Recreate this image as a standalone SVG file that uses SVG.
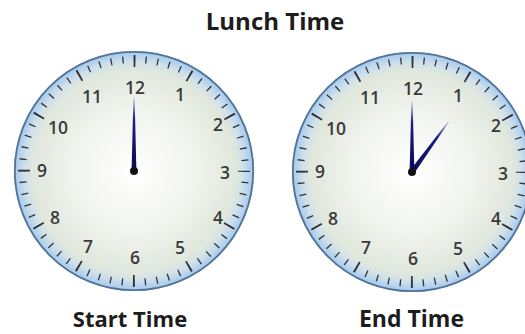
<svg xmlns="http://www.w3.org/2000/svg" xmlns:xlink="http://www.w3.org/1999/xlink" width="525" height="334" viewBox="0 0 525 334">
  <style>
    .title { font-family: "Open Sans", "Liberation Sans", sans-serif; font-weight: 700; fill: #1c1c1c; text-anchor: middle; }
    .num { font-family: "Open Sans", "Liberation Sans", sans-serif; font-weight: 600; font-size: 17.5px; fill: #3a3a3a; text-anchor: middle; }
  </style>
  <defs>
    <radialGradient id="dialGrad" gradientUnits="userSpaceOnUse" cx="0" cy="0" r="120">
      <stop offset="0" stop-color="#ffffff"/>
      <stop offset="0.5" stop-color="#f2f4ef"/>
      <stop offset="0.85" stop-color="#e0e7dc"/>
      <stop offset="0.91" stop-color="#d0e1eb"/>
      <stop offset="0.96" stop-color="#b5d3ee"/>
      <stop offset="1" stop-color="#a3c6e7"/>
    </radialGradient>
    <linearGradient id="handGrad" x1="0" y1="1" x2="0" y2="0">
      <stop offset="0" stop-color="#0b0954"/>
      <stop offset="0.7" stop-color="#1d1c86"/>
      <stop offset="1" stop-color="#cfd2e4"/>
    </linearGradient>
    <g id="dial">
      <circle r="120" fill="url(#dialGrad)"/>
      <circle r="119.2" fill="none" stroke="#52739a" stroke-width="1.8"/>
      <circle r="111.5" fill="none" stroke="#333333" stroke-width="7" stroke-dasharray="1.3 10.376" stroke-dashoffset="0.65"/>
      <circle r="110" fill="none" stroke="#333333" stroke-width="12" stroke-dasharray="1.8 55.796" stroke-dashoffset="0.9"/>
    </g>
  </defs>
  <rect width="525" height="334" fill="#ffffff"/>

  <g id="title">
    <text class="title" x="275" y="30" font-size="24">Lunch Time</text>
  </g>

  <g id="clock-start">
    <use xlink:href="#dial" href="#dial" transform="translate(134,171)"/>
    <g transform="translate(134,171)">
      <text class="num" x="1" y="-77">12</text>
      <text class="num" x="46" y="-70">1</text>
      <text class="num" x="84" y="-40">2</text>
      <text class="num" x="91" y="8">3</text>
      <text class="num" x="84" y="53">4</text>
      <text class="num" x="46" y="83">5</text>
      <text class="num" x="1" y="93">6</text>
      <text class="num" x="-46" y="82">7</text>
      <text class="num" x="-79" y="53">8</text>
      <text class="num" x="-92" y="6">9</text>
      <text class="num" x="-76" y="-37">10</text>
      <text class="num" x="-42" y="-68">11</text>
      <polygon points="-2.4,0 2.4,0 0.6,-74 -0.6,-74" fill="url(#handGrad)"/>
      <circle r="4" fill="#111111"/>
    </g>
  </g>

  <g id="clock-end">
    <use xlink:href="#dial" href="#dial" transform="translate(412,172)"/>
    <g transform="translate(412,172)">
      <text class="num" x="1" y="-77">12</text>
      <text class="num" x="46" y="-70">1</text>
      <text class="num" x="84" y="-40">2</text>
      <text class="num" x="91" y="8">3</text>
      <text class="num" x="84" y="53">4</text>
      <text class="num" x="46" y="83">5</text>
      <text class="num" x="1" y="93">6</text>
      <text class="num" x="-46" y="82">7</text>
      <text class="num" x="-79" y="53">8</text>
      <text class="num" x="-92" y="6">9</text>
      <text class="num" x="-76" y="-37">10</text>
      <text class="num" x="-42" y="-68">11</text>
      <polygon points="-2.4,0 2.4,0 0.6,-71 -0.6,-71" fill="url(#handGrad)"/>
      <polygon points="-2.6,0 2.6,0 0.6,-62 -0.6,-62" fill="url(#handGrad)" transform="rotate(36)"/>
      <circle r="4" fill="#111111"/>
    </g>
  </g>

  <g id="label-start">
    <text class="title" x="130" y="327" font-size="22">Start Time</text>
  </g>
  <g id="label-end">
    <text class="title" x="411.5" y="327" font-size="23">End Time</text>
  </g>
  <g id="connectors"/>
</svg>
